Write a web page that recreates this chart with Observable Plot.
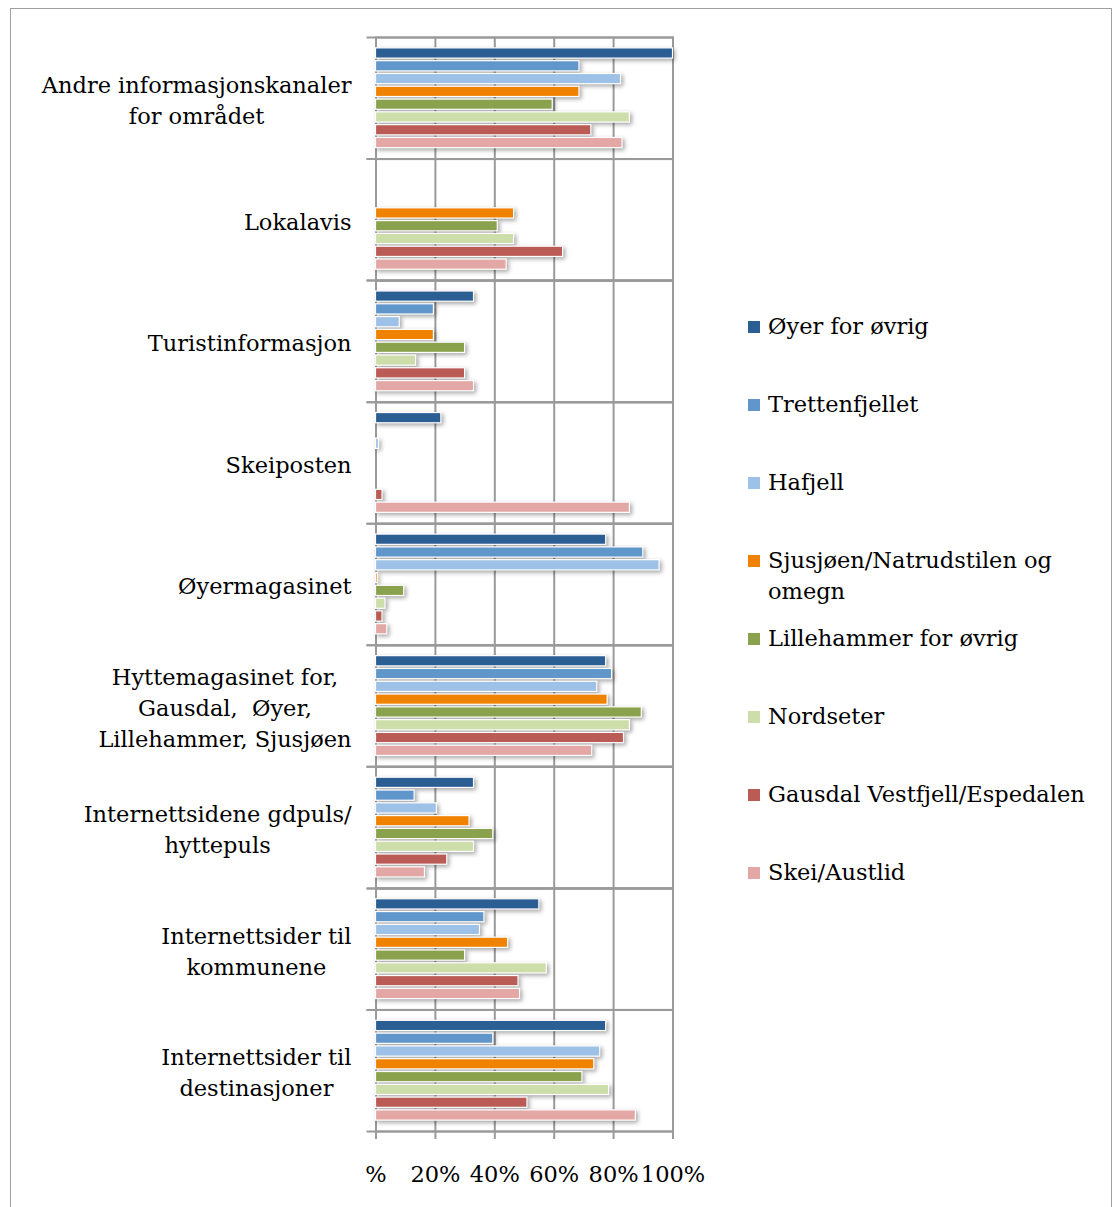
<!DOCTYPE html>
<html>
<head>
<meta charset="utf-8">
<script src="https://cdn.jsdelivr.net/npm/d3@7"></script>
<script src="https://cdn.jsdelivr.net/npm/@observablehq/plot@0.6"></script>
<style>
  html, body { margin: 0; padding: 0; background: #fff; }
  #wrap { position: relative; width: 1112px; height: 1207px; overflow: hidden; font-family: "DejaVu Serif", serif; }
  #border { position: absolute; left: 10px; top: 8px; right: 0px; bottom: -10px; border: 1.5px solid #a0a0a0; border-bottom: none; }
  #chart { position: absolute; left: 0; top: 0; }
  .lg { position: absolute; left: 748px; font-size: 22.5px; line-height: 31px; color: #000; }
  .lg .sw { position: absolute; left: 0; top: 10px; width: 12px; height: 12px; }
  .lg .tx { position: absolute; left: 20px; top: 0; white-space: nowrap; }
</style>
</head>
<body>
<div id="wrap">
  <div id="border"></div>
  <div id="chart"></div>
  <div id="legend"></div>
</div>
<script>
const categories = [
  "Andre informasjonskanaler\nfor området",
  "Lokalavis",
  "Turistinformasjon",
  "Skeiposten",
  "Øyermagasinet",
  "Hyttemagasinet for,\nGausdal,\u00a0 Øyer,\nLillehammer, Sjusjøen",
  "Internettsidene gdpuls/\nhyttepuls",
  "Internettsider til\nkommunene",
  "Internettsider til\ndestinasjoner"
];
const series = [
  "Øyer for øvrig",
  "Trettenfjellet",
  "Hafjell",
  "Sjusjøen/Natrudstilen og omegn",
  "Lillehammer for øvrig",
  "Nordseter",
  "Gausdal Vestfjell/Espedalen",
  "Skei/Austlid"
];
const legendLabels = [
  "Øyer for øvrig",
  "Trettenfjellet",
  "Hafjell",
  "Sjusjøen/Natrudstilen og\nomegn",
  "Lillehammer for øvrig",
  "Nordseter",
  "Gausdal Vestfjell/Espedalen",
  "Skei/Austlid"
];
const colors = ["#2B5E93", "#6096CA", "#9DC1E7", "#EF8200", "#8AA24D", "#CEDEAB", "#BA5B55", "#E3A8A6"];

// values (%) per series, in category order (top to bottom)
const oyer          = [100,  null, 33,   22,  77.5, 77.5, 33,   55,   77.5];
const trettenfjellet= [68.5, null, 19.5, 0,   90,   79.5, 13,   36.5, 39.5];
const hafjell       = [82.5, null, 8,    1,   95.5, 74.5, 20.5, 35,   75.5];
const sjusjoen      = [68.5, 46.5, 19.5, 0,   0.6,  78,   31.5, 44.5, 73.5];
const lillehammer   = [59.5, 41,   30,   0,   9.5,  89.5, 39.5, 30,   69.5];
const nordseter     = [85.5, 46.5, 13.5, 0,   3.2,  85.5, 33,   57.5, 78.5];
const gausdal       = [72.5, 63,   30,   2.2, 2.2,  83.5, 24,   48,   51];
const skei          = [83,   44,   33,   85.5,3.8,  72.8, 16.5, 48.5, 87.5];

const xTicks = [0, 20, 40, 60, 80, 100];
const xTickLabels = ["%", "20%", "40%", "60%", "80%", "100%"];

const valueSets = [oyer, trettenfjellet, hafjell, sjusjoen, lillehammer, nordseter, gausdal, skei];
const table = [];
series.forEach((s, si) => {
  categories.forEach((c, ci) => {
    const v = valueSets[si][ci];
    if (v != null && v > 0) table.push({category: c, series: s, value: v});
  });
});

const FONT = "DejaVu Serif";
const FS = 22.5;
const grey = "#9a9a9a";

const ctx = document.createElement("canvas").getContext("2d");
ctx.font = `${FS}px "${FONT}"`;
const blockWidth = (t) => Math.max(...t.split("\n").map(l => ctx.measureText(l).width));

const labelMarks = categories.map(c => Plot.text([c], {
  fy: d => d,
  text: d => d,
  frameAnchor: "left",
  textAnchor: "middle",
  lineAnchor: "middle",
  lineHeight: 31 / FS,
  dx: -24.5 - blockWidth(c) / 2,
  dy: 0,
  fontSize: FS,
  fontFamily: FONT,
  fill: "#000"
}));

const chart = Plot.plot({
  width: 1112,
  height: 1207,
  marginTop: 37,
  marginBottom: 76,
  marginLeft: 375.5,
  marginRight: 439.5,
  style: {background: "transparent", fontFamily: FONT},
  fy: {domain: categories, padding: 0, axis: null, round: false},
  y: {domain: series, paddingInner: 0.2, paddingOuter: 0.85, axis: null, round: false},
  x: {domain: [0, 100]},
  color: {domain: series, range: colors},
  marks: [
    Plot.ruleX([20, 40, 60, 80], {stroke: grey, strokeWidth: 2}),
    Plot.frame({stroke: grey, strokeWidth: 2}),
    Plot.frame({anchor: "top", insetLeft: -8.5, stroke: grey, strokeWidth: 2}),
    Plot.frame({anchor: "bottom", insetLeft: -8.5, stroke: grey, strokeWidth: 2}),
    Plot.barX(table, {
      fy: "category", y: "series", x: "value", fill: "series",
      stroke: "white", strokeWidth: 1.2
    }),
    Plot.axisX({
      ticks: xTicks,
      tickFormat: (d) => xTickLabels[xTicks.indexOf(d)],
      tickSize: 8,
      tickPadding: 27,
      stroke: grey,
      strokeWidth: 2,
      fill: "#000",
      fontSize: FS,
      fontFamily: FONT,
      label: null
    }),
    ...labelMarks
  ]
});
document.getElementById("chart").appendChild(chart);
chart.querySelectorAll('g[aria-label="bar"]').forEach(g => {
  g.style.filter = "drop-shadow(2.5px 2.5px 2px rgba(0,0,0,0.35))";
});

const legend = document.getElementById("legend");
legendLabels.forEach((l, i) => {
  const div = document.createElement("div");
  div.className = "lg";
  div.style.top = (311 + 78 * i) + "px";
  const sw = document.createElement("div");
  sw.className = "sw";
  sw.style.background = colors[i];
  const tx = document.createElement("div");
  tx.className = "tx";
  tx.innerHTML = l.split("\n").join("<br>");
  div.appendChild(sw);
  div.appendChild(tx);
  legend.appendChild(div);
});
</script>
</body>
</html>
